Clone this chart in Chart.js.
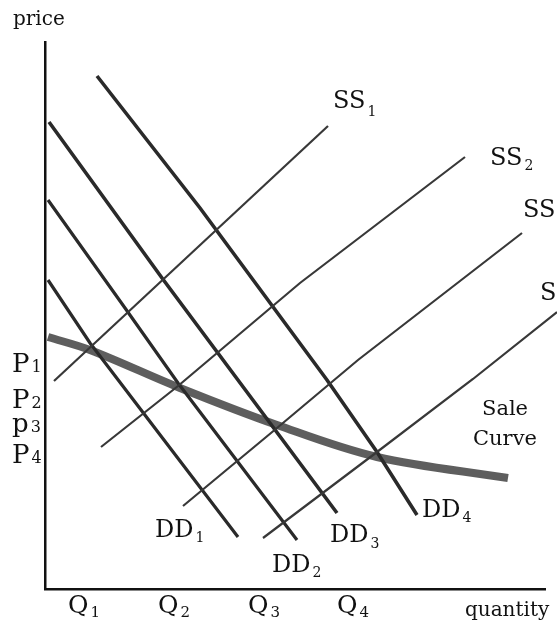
<!DOCTYPE html>
<html>
<head>
<meta charset="utf-8">
<script src="https://cdn.jsdelivr.net/npm/chart.js@4.4.0/dist/chart.umd.min.js"></script>
<style>
  html, body { margin: 0; padding: 0; background: #fff; }
  #wrap { width: 557px; height: 628px; position: relative; }
</style>
</head>
<body>
<div id="wrap"><canvas id="saleChart"></canvas></div>
<script>
// quantity (x) / price (y) readings, origin at the axes corner
const saleQ = [3, 45, 135, 232, 332, 463];
const saleP = [252, 239, 201, 164, 132, 111];

const ss1Q = [9, 283];
const ss1P = [208, 463];
const ss2Q = [56, 133, 255, 420];
const ss2P = [142, 203, 306, 432];
const ss3Q = [138, 232, 313, 477];
const ss3P = [83, 161, 229, 356];
const ss4Q = [218, 332, 428, 512];
const ss4P = [51, 137, 210, 277];

const dd1Q = [3, 45, 193];
const dd1P = [309, 246, 52];
const dd2Q = [3, 80, 133, 252];
const dd2P = [389, 281, 206, 49];
const dd3Q = [4, 117, 292];
const dd3P = [467, 311, 76];
const dd4Q = [52, 155, 282, 332, 372];
const dd4P = [513, 381, 209, 137, 74];

const priceLabels = ['P1', 'P2', 'p3', 'P4'];
const priceAt = [217, 181, 157, 126];
const quantityLabels = ['Q1', 'Q2', 'Q3', 'Q4'];
const quantityAt = [23, 113, 203, 292];

const supplyNames = ['SS1', 'SS2', 'SS3', 'SS4'];
const demandNames = ['DD1', 'DD2', 'DD3', 'DD4'];

const pts = (xs, ys) => xs.map((x, i) => ({ x: x, y: ys[i] }));

function line(label, xs, ys, color, width, tension) {
  return {
    label: label,
    data: pts(xs, ys),
    showLine: true,
    borderColor: color,
    borderWidth: width,
    pointRadius: 0,
    tension: tension || 0,
    borderCapStyle: 'butt',
    clip: false
  };
}

const SERIF = '"DejaVu Serif", "Liberation Serif", serif';

// text placements (left edge, baseline) in data units
const curveTags = [
  { t: supplyNames[0], x: 288, y: 481, size: 24, drop: 8 },
  { t: supplyNames[1], x: 445, y: 424, size: 24, drop: 5 },
  { t: supplyNames[2], x: 478, y: 372, size: 24, drop: 5 },
  { t: supplyNames[3], x: 495, y: 289, size: 24, drop: 5 },
  { t: demandNames[0], x: 110, y: 52, size: 24, drop: 5 },
  { t: demandNames[1], x: 227, y: 17, size: 24, drop: 5 },
  { t: demandNames[2], x: 285, y: 47, size: 24, drop: 6 },
  { t: demandNames[3], x: 377, y: 72, size: 24, drop: 5 }
];

const textPlugin = {
  id: 'textPlugin',
  afterDraw(chart) {
    const ctx = chart.ctx;
    const xs = chart.scales.x, ys = chart.scales.y;
    ctx.save();
    ctx.fillStyle = '#111';
    ctx.textBaseline = 'alphabetic';
    ctx.textAlign = 'left';

    function sub(label, px, py, size, drop) {
      const main = label.slice(0, -1), s = label.slice(-1);
      ctx.font = size + 'px ' + SERIF;
      ctx.fillText(main, px, py);
      const w = ctx.measureText(main).width;
      ctx.font = Math.round(size * 0.6) + 'px ' + SERIF;
      ctx.fillText(s, px + w + 2, py + drop);
    }
    function plain(t, px, py, size) {
      ctx.font = size + 'px ' + SERIF;
      ctx.fillText(t, px, py);
    }

    curveTags.forEach(c => sub(c.t, xs.getPixelForValue(c.x), ys.getPixelForValue(c.y), c.size, c.drop));

    priceLabels.forEach((l, i) => sub(l, xs.getPixelForValue(-33), ys.getPixelForValue(priceAt[i]), 26, 0));
    quantityLabels.forEach((l, i) => sub(l, xs.getPixelForValue(quantityAt[i]), ys.getPixelForValue(-24), 25, 4));

    plain('price', xs.getPixelForValue(-32), ys.getPixelForValue(564), 20);
    plain('quantity', xs.getPixelForValue(420), ys.getPixelForValue(-27), 20);
    plain('Sale', xs.getPixelForValue(437), ys.getPixelForValue(174), 21);
    plain('Curve', xs.getPixelForValue(428), ys.getPixelForValue(144), 21);
    ctx.restore();
  }
};

const DD = '#2a2a2a', SS = '#383838';

new Chart(document.getElementById('saleChart'), {
  type: 'scatter',
  data: {
    datasets: [
      line('SS1', ss1Q, ss1P, SS, 2.2),
      line('SS2', ss2Q, ss2P, SS, 2.2),
      line('SS3', ss3Q, ss3P, SS, 2.2),
      line('SS4', ss4Q, ss4P, SS, 2.2),
      line('DD1', dd1Q, dd1P, DD, 3.2),
      line('DD2', dd2Q, dd2P, DD, 3.2),
      line('DD3', dd3Q, dd3P, DD, 3.6),
      line('DD4', dd4Q, dd4P, DD, 3.6),
      line('Sale Curve', saleQ, saleP, 'rgba(80,80,80,0.92)', 8, 0.35)
    ]
  },
  plugins: [textPlugin],
  options: {
    responsive: true,
    maintainAspectRatio: false,
    animation: false,
    layout: { padding: { left: 45, right: 12, top: 42, bottom: 39 } },
    plugins: {
      legend: { display: false },
      tooltip: { enabled: false }
    },
    scales: {
      x: {
        type: 'linear',
        min: 0,
        max: 500,
        grid: { display: false, drawTicks: false },
        ticks: { display: false },
        border: { display: true, color: '#111', width: 2.5 }
      },
      y: {
        type: 'linear',
        min: 0,
        max: 547,
        grid: { display: false, drawTicks: false },
        ticks: { display: false },
        border: { display: true, color: '#111', width: 2.5 }
      }
    }
  }
});
</script>
</body>
</html>
